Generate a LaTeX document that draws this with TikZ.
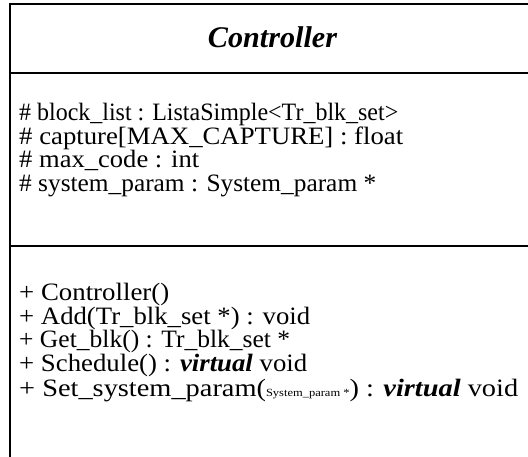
\documentclass[tikz,border=0pt]{standalone}
\usepackage{graphicx}
\usepackage{fontspec}
\setmainfont{Liberation Serif}[BoldItalicFont={Liberation Serif Bold Italic}]
% set a line of text to a fixed width, keeping its height
\newcommand{\fitline}[2]{\resizebox{#1}{\height}{#2}}
\newcommand{\kw}[1]{\textbf{\textit{#1}}}
\begin{document}
\begin{tikzpicture}[x=1pt,y=-1pt,
  frame/.style={line width=2.4pt, line cap=rect},
  member/.style={anchor=base west, inner sep=0pt, font=\fontsize{25}{25}\selectfont},
  classname/.style={anchor=base, inner sep=0pt, font=\fontsize{30}{30}\selectfont\bfseries\itshape}]
\useasboundingbox (0,0) rectangle (528,457);
\fill[white] (0,0) rectangle (528,457);
% class box outline and compartment dividers
\draw[frame] (528,4) -- (10,4) -- (10,460);
\draw[frame] (10,73) -- (528,73);
\draw[frame] (10,246) -- (528,246);
% class name
\node[classname] (name) at (272.5,48) {\fitline{129pt}{Controller}};
% attributes
\node[member] (a1) at (19,121) {\fitline{379pt}{\# block\_list : ListaSimple\textless Tr\_blk\_set\textgreater}};
\node[member] (a2) at (19,145) {\fitline{384pt}{\# capture[MAX\_CAPTURE] : float}};
\node[member] (a3) at (19,168) {\fitline{180pt}{\# max\_code : int}};
\node[member] (a4) at (19,192) {\fitline{357pt}{\# system\_param : System\_param *}};
% operations
\node[member] (o1) at (19,301) {\fitline{150pt}{+ Controller()}};
\node[member] (o2) at (19,325) {\fitline{291pt}{+ Add(Tr\_blk\_set *) : void}};
\node[member] (o3) at (19,348) {\fitline{271pt}{+ Get\_blk() : Tr\_blk\_set *}};
\node[member] (o4) at (19,372) {\fitline{288pt}{+ Schedule() : \kw{virtual} void}};
\node[member] (o5) at (19,396) {\fitline{499pt}{+ Set\_system\_param({\fontsize{11}{11}\selectfont System\_param *}) : \kw{virtual} void}};
\end{tikzpicture}
\end{document}
